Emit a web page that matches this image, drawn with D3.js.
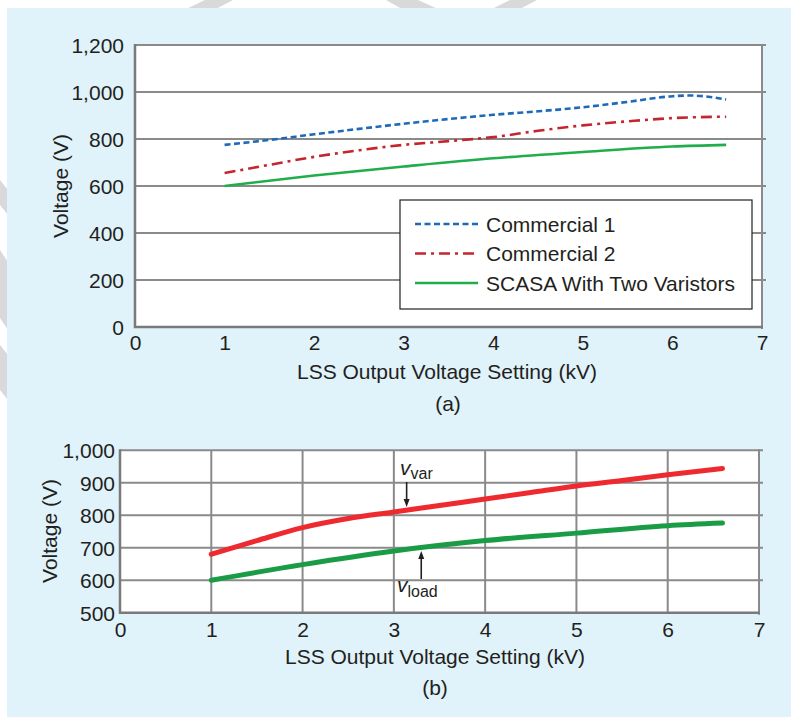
<!DOCTYPE html>
<html>
<head>
<meta charset="utf-8">
<script src="https://cdnjs.cloudflare.com/ajax/libs/d3/7.8.5/d3.min.js"></script>
<style>
    body { margin: 0; background: #fff; }
    svg text { font-family: "Liberation Sans", Arial, Helvetica, sans-serif; fill: #231f20; }
</style>
</head>
<body>
<div id="chart"></div>
<script>
// (a) voltages vs LSS setting
var kvC1 = [1, 1.5, 2, 2.5, 3, 3.5, 4, 4.5, 5, 5.5, 6, 6.2, 6.4, 6.6]
var commercial1 = [775, 796, 820, 843, 865, 885, 903, 918, 935, 958, 982, 985, 980, 968]
var kvC2 = [1, 1.5, 2, 2.5, 3, 3.5, 4, 4.5, 5, 5.5, 6, 6.6]
var commercial2 = [655, 690, 724, 752, 775, 791, 808, 835, 858, 875, 889, 895]
var kvScasa = [1, 2, 3, 4, 5, 6, 6.6]
var scasa = [600, 645, 683, 718, 745, 768, 775]

// (b) varistor / load voltage
var kvVar = [1, 1.5, 2, 2.5, 3, 3.5, 4, 4.5, 5, 5.5, 6, 6.6]
var vVar = [680, 722, 762, 790, 810, 830, 850, 870, 890, 907, 925, 944]
var kvLoad = [1, 2, 3, 4, 5, 6, 6.6]
var vLoad = [600, 648, 690, 722, 745, 768, 776]

var xTicks = [0, 1, 2, 3, 4, 5, 6, 7]
var yTicksA = [0, 200, 400, 600, 800, 1000, 1200]
var yTicksB = [500, 600, 700, 800, 900, 1000]
var legendLabels = ['Commercial 1', 'Commercial 2', 'SCASA With Two Varistors']

var W = 791, H = 717
var gridColor = '#8a8a8a'
var fs = 21
var fmt = d3.format(',')

var svg = d3.select('#chart').append('svg')
    .attr('width', W)
    .attr('height', H)

// background + watermark bits in the white margin
svg.append('rect').attr('width', W).attr('height', H).attr('fill', '#fff')
var marks = [
    [[205, 0], [233, 0], [216, 9], [186, 9]],
    [[386, 0], [418, 0], [438, 9], [402, 9]],
    [[510, 0], [537, 0], [520, 9], [492, 9]],
    [[0, 180], [8, 190], [8, 215], [0, 205]],
    [[0, 250], [8, 262], [8, 330], [0, 318]],
    [[0, 345], [8, 355], [8, 400], [0, 390]]
]
svg.selectAll('.wm').data(marks).enter().append('polygon')
    .attr('class', 'wm')
    .attr('points', function(d) { return d.join(' ') })
    .attr('fill', '#d9d9d9')
svg.append('rect').attr('x', 7).attr('y', 8).attr('width', W - 7).attr('height', H - 8)
    .attr('fill', '#e0f2fa')

function makeLine(x, y) {
    return d3.line()
        .x(function(d) { return x(d[0]) })
        .y(function(d) { return y(d[1]) })
        .curve(d3.curveMonotoneX)
}

function zip(a, b) {
    return a.map(function(v, i) { return [v, b[i]] })
}

function drawFrame(g, x, y, yTicks, vertGrid) {
    var x0 = x.range()[0], x1 = x.range()[1]
    var y0 = y.range()[0], y1 = y.range()[1]
    g.append('rect').attr('x', x0).attr('y', y1).attr('width', x1 - x0).attr('height', y0 - y1)
        .attr('fill', '#fff')

    g.selectAll('.hgrid').data(yTicks.slice(1)).enter().append('line')
        .attr('x1', x0).attr('x2', x1 + 4)
        .attr('y1', function(d) { return y(d) }).attr('y2', function(d) { return y(d) })
        .attr('stroke', gridColor).attr('stroke-width', 2)
    if (vertGrid) {
        g.selectAll('.vgrid').data(xTicks.slice(1, -1)).enter().append('line')
            .attr('y1', y0).attr('y2', y1)
            .attr('x1', function(d) { return x(d) }).attr('x2', function(d) { return x(d) })
            .attr('stroke', gridColor).attr('stroke-width', 2)
    }
    // right border
    g.append('line').attr('x1', x1).attr('x2', x1).attr('y1', y1 - 1).attr('y2', y0 + 2)
        .attr('stroke', gridColor).attr('stroke-width', 2)
    // left + bottom axes
    g.append('path')
        .attr('d', 'M' + x0 + ',' + (y1 - 1) + 'V' + y0 + 'H' + (x1 + 1))
        .attr('fill', 'none').attr('stroke', '#7a7a7a').attr('stroke-width', 2.5)
}

function drawTicks(g, x, y, yTicks, yLabelX, xLabelY) {
    g.append('g').attr('transform', 'translate(' + yLabelX + ',0)')
        .call(d3.axisLeft(y).tickValues(yTicks).tickFormat(fmt).tickSize(0).tickPadding(0))
        .call(function(a) {
            a.select('.domain').remove()
            a.selectAll('text').attr('font-size', fs).attr('dy', '0.35em')
                .attr('font-family', null)
        })
    g.append('g').attr('transform', 'translate(0,' + xLabelY + ')')
        .call(d3.axisBottom(x).tickValues(xTicks).tickFormat(d3.format('d')).tickSize(0).tickPadding(0))
        .call(function(a) {
            a.select('.domain').remove()
            a.selectAll('text').attr('font-size', fs).attr('dy', '0.71em')
                .attr('font-family', null)
        })
}

function chartA() {
    var x = d3.scaleLinear().domain([0, 7]).range([135, 762])
    var y = d3.scaleLinear().domain([0, 1200]).range([327, 45])
    var g = svg.append('g')
    drawFrame(g, x, y, yTicksA, false)

    var line = makeLine(x, y)
    var series = [
        { data: zip(kvC1, commercial1), color: '#1e6ab8', dash: '6,3.5' },
        { data: zip(kvC2, commercial2), color: '#c4262e', dash: '11,5,3,5' },
        { data: zip(kvScasa, scasa), color: '#1fae4b', dash: null }
    ]
    g.selectAll('.sa').data(series).enter().append('path')
        .attr('d', function(d) { return line(d.data) })
        .attr('fill', 'none')
        .attr('stroke', function(d) { return d.color })
        .attr('stroke-width', 2.6)
        .attr('stroke-dasharray', function(d) { return d.dash })

    // legend
    var lg = g.append('g')
    lg.append('rect').attr('x', 400).attr('y', 200).attr('width', 352).attr('height', 109)
        .attr('fill', '#fff').attr('stroke', '#231f20').attr('stroke-width', 1.2)
    var rows = lg.selectAll('.lr').data(series).enter().append('g')
        .attr('transform', function(d, i) { return 'translate(415,' + (224 + i * 29.5) + ')' })
    rows.append('line').attr('x1', 0).attr('x2', 63)
        .attr('stroke', function(d) { return d.color })
        .attr('stroke-width', 2.6)
        .attr('stroke-dasharray', function(d) { return d.dash })
    rows.append('text').attr('x', 71).attr('dy', '0.36em').attr('font-size', fs)
        .text(function(d, i) { return legendLabels[i] })

    drawTicks(g, x, y, yTicksA, 124, 335)
    g.append('text').attr('x', 447).attr('y', 379).attr('text-anchor', 'middle')
        .attr('font-size', fs).text('LSS Output Voltage Setting (kV)')
    g.append('text').attr('x', 448).attr('y', 411).attr('text-anchor', 'middle')
        .attr('font-size', fs).text('(a)')
    g.append('text').attr('transform', 'translate(68,186) rotate(-90)').attr('text-anchor', 'middle')
        .attr('font-size', fs).text('Voltage (V)')
}

function chartB() {
    var x = d3.scaleLinear().domain([0, 7]).range([120, 759])
    var y = d3.scaleLinear().domain([500, 1000]).range([612.7, 450.3])
    var g = svg.append('g')
    drawFrame(g, x, y, yTicksB, true)

    var line = makeLine(x, y)
    var series = [
        { data: zip(kvVar, vVar), color: '#ee2a2e' },
        { data: zip(kvLoad, vLoad), color: '#1a9c47' }
    ]
    g.selectAll('.sb').data(series).enter().append('path')
        .attr('d', function(d) { return line(d.data) })
        .attr('fill', 'none')
        .attr('stroke', function(d) { return d.color })
        .attr('stroke-width', 5)
        .attr('stroke-linecap', 'round')

    // annotation arrows
    var arrows = [
        { kv: 3.14, from: 482, to: 507 },
        { kv: 3.30, from: 579, to: 551 }
    ]
    var ag = g.selectAll('.arr').data(arrows).enter().append('g')
    ag.append('line')
        .attr('x1', function(d) { return x(d.kv) }).attr('x2', function(d) { return x(d.kv) })
        .attr('y1', function(d) { return d.from })
        .attr('y2', function(d) { return d.to + (d.to > d.from ? -6 : 6) })
        .attr('stroke', '#231f20').attr('stroke-width', 1.6)
    ag.append('path')
        .attr('d', function(d) {
            var cx = x(d.kv), s = d.to > d.from ? -1 : 1
            return 'M' + cx + ',' + d.to + 'L' + (cx - 3) + ',' + (d.to + 8 * s) + 'L' + (cx + 3) + ',' + (d.to + 8 * s) + 'Z'
        })
        .attr('fill', '#231f20')

    var t1 = g.append('text').attr('x', 400).attr('y', 475).attr('font-size', fs)
    t1.append('tspan').attr('font-style', 'italic').text('v')
    t1.append('tspan').attr('font-size', 16).attr('dy', 4).text('var')
    var t2 = g.append('text').attr('x', 397).attr('y', 592).attr('font-size', fs)
    t2.append('tspan').attr('font-style', 'italic').text('v')
    t2.append('tspan').attr('font-size', 16).attr('dy', 5).text('load')

    drawTicks(g, x, y, yTicksB, 115, 622)
    g.append('text').attr('x', 435).attr('y', 664).attr('text-anchor', 'middle')
        .attr('font-size', fs).text('LSS Output Voltage Setting (kV)')
    g.append('text').attr('x', 435).attr('y', 695).attr('text-anchor', 'middle')
        .attr('font-size', fs).text('(b)')
    g.append('text').attr('transform', 'translate(57,531) rotate(-90)').attr('text-anchor', 'middle')
        .attr('font-size', fs).text('Voltage (V)')
}

chartA()
chartB()
</script>
</body>
</html>
